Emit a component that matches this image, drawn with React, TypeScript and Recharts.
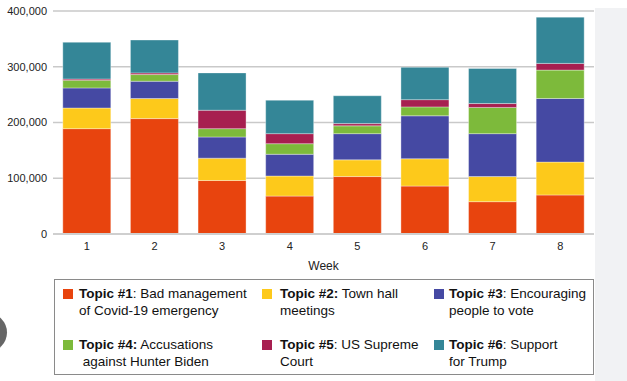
import React from 'react';
import { BarChart, Bar, XAxis, YAxis, CartesianGrid } from 'recharts';

const weeks = ['1', '2', '3', '4', '5', '6', '7', '8'];
const topic1 = [189000, 207000, 96000, 68000, 103000, 86000, 58000, 70000];
const topic2 = [37000, 36000, 40000, 36000, 30000, 49000, 45000, 59000];
const topic3 = [36000, 31000, 38000, 39000, 47000, 77000, 77000, 114000];
const topic4 = [14000, 12000, 15000, 19000, 14000, 16000, 47000, 51000];
const topic5 = [2000, 3000, 33000, 18000, 4000, 13000, 7000, 12000];
const topic6 = [66000, 59000, 67000, 60000, 50000, 58000, 63000, 83000];
const yTicks = [0, 100000, 200000, 300000, 400000];

const seriesKeys = ['t1', 't2', 't3', 't4', 't5', 't6'];
const colors = ['#e8440e', '#fdc91b', '#4549a3', '#7dba3b', '#a71f50', '#348697'];
const legendBold = ['Topic #1', 'Topic #2:', 'Topic #3', 'Topic #4:', 'Topic #5', 'Topic #6'];
const legendRest = [
  [': Bad management', 'of Covid-19 emergency'],
  [' Town hall', 'meetings'],
  [': Encouraging', 'people to vote'],
  [' Accusations', '\u00a0against Hunter Biden'],
  [': US Supreme', 'Court'],
  [': Support', 'for Trump'],
];

const data = weeks.map((w, i) => ({
  week: w,
  t1: topic1[i],
  t2: topic2[i],
  t3: topic3[i],
  t4: topic4[i],
  t5: topic5[i],
  t6: topic6[i],
}));

const fmt = (v: number) => v.toLocaleString('en-US');
const font = '"Liberation Sans", Arial, Helvetica, sans-serif';

const legendCols = [
  { sq: 63, tx: 79 },
  { sq: 262, tx: 280 },
  { sq: 434, tx: 449 },
];
const legendRows = [285, 336];

export default function App() {
  return (
    <div style={{ position: 'absolute', left: 0, top: 0, width: 627, height: 381, background: '#fff', overflow: 'hidden', fontFamily: font }}>
      <div style={{ position: 'absolute', left: 595, top: 8, width: 32, height: 373, background: '#f1f2f4' }} />
      <div style={{ position: 'absolute', left: -32, top: 313, width: 39, height: 39, borderRadius: 20, background: '#666' }} />
      <div style={{ position: 'absolute', left: 0, top: 0 }}>
        <BarChart width={627} height={275} data={data} margin={{ top: 11, right: 33, left: 0, bottom: 0 }} barCategoryGap="14.5%">
          <CartesianGrid vertical={false} stroke="#c9c9c9" strokeWidth={1.3} />
          <XAxis
            dataKey="week"
            height={41}
            tickLine={false}
            axisLine={{ stroke: '#cfcfcf', strokeWidth: 2 }}
            tick={{ fontSize: 11, fill: '#222', fontFamily: font }}
            label={{ value: 'Week', position: 'insideBottom', offset: 5, fontSize: 12, fill: '#222', fontFamily: font }}
          />
          <YAxis
            width={53}
            domain={[0, 400000]}
            ticks={yTicks}
            tickFormatter={fmt}
            tickLine={false}
            axisLine={false}
            tickMargin={0}
            tick={{ fontSize: 11, fill: '#222', fontFamily: font }}
          />
          {seriesKeys.map((k, i) => (
            <Bar key={k} dataKey={k} stackId="a" fill={colors[i]} stroke="rgba(255,255,255,0.35)" strokeWidth={1} isAnimationActive={false} />
          ))}
        </BarChart>
      </div>
      <div style={{ position: 'absolute', left: 54, top: 279, width: 538, height: 94, border: '1px solid #8a8a8a' }} />
      {seriesKeys.map((k, i) => {
        const col = legendCols[i % 3];
        const top = legendRows[Math.floor(i / 3)];
        return (
          <React.Fragment key={k}>
            <div style={{ position: 'absolute', left: col.sq, top: top + 4, width: 10, height: 10, background: colors[i] }} />
            <div style={{ position: 'absolute', left: col.tx, top, fontSize: 13.5, lineHeight: '17px', color: '#111', whiteSpace: 'nowrap' }}>
              <span style={{ fontWeight: 'bold' }}>{legendBold[i]}</span>
              {legendRest[i][0]}
              <br />
              {legendRest[i][1]}
            </div>
          </React.Fragment>
        );
      })}
    </div>
  );
}
